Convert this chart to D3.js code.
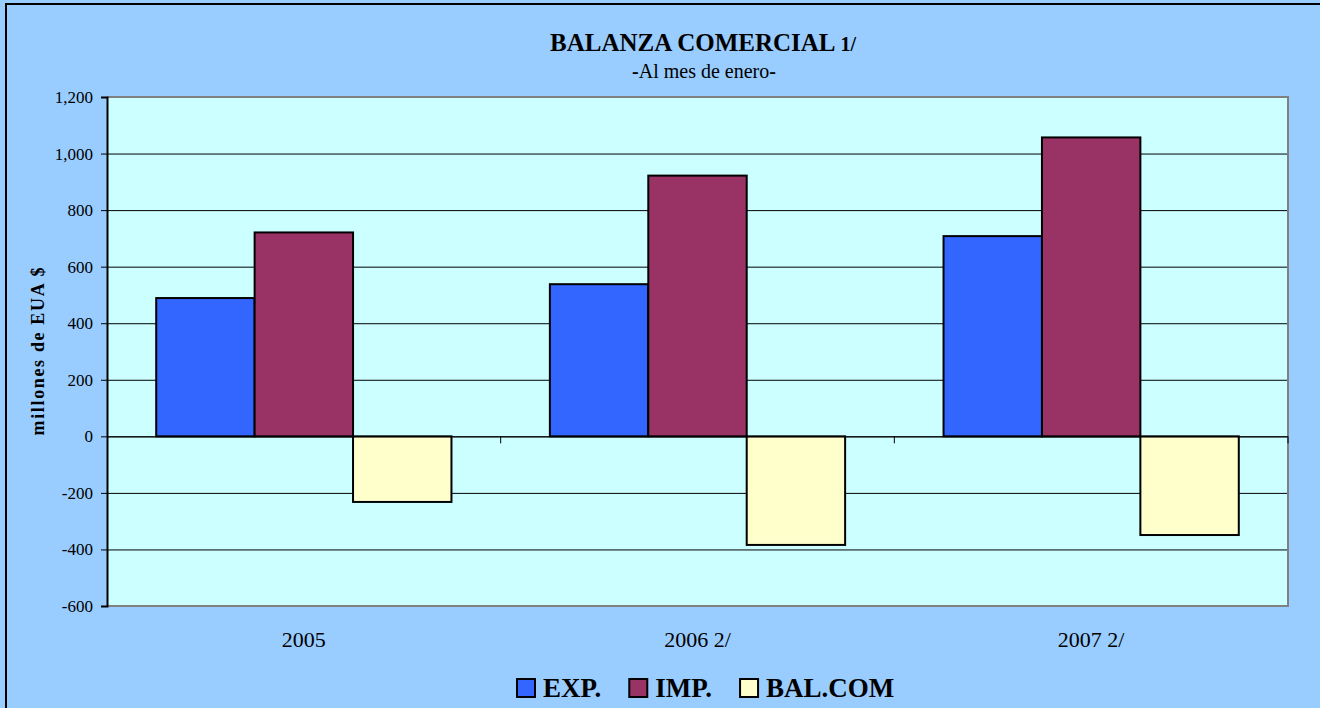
<!DOCTYPE html>
<html>
<head>
<meta charset="utf-8">
<script src="https://cdn.jsdelivr.net/npm/d3@7"></script>
<style>
  body { margin: 0; background: #99ccff; }
  text { font-family: "Liberation Serif", "Times New Roman", serif; fill: #000; }
</style>
</head>
<body>
<svg id="chart" width="1320" height="708"></svg>
<script>
// data (millones de EUA $, al mes de enero)
const categories = ["2005", "2006 2/", "2007 2/"];
const seriesNames = ["EXP.", "IMP.", "BAL.COM"];
const expValues = [489, 538, 708];
const impValues = [721, 922, 1057];
const balValues = [-232, -384, -349];
const yTicks = [-600, -400, -200, 0, 200, 400, 600, 800, 1000, 1200];
const colors = ["#3366ff", "#993366", "#ffffcc"];

const rows = categories.map((c, i) => ({
    cat: c,
    vals: [expValues[i], impValues[i], balValues[i]]
}));

const svg = d3.select("#chart");
const plot = { left: 107, top: 97, right: 1288, bottom: 606 };

// outer frame
svg.append("rect")
    .attr("x", 6).attr("y", 4)
    .attr("width", 1340).attr("height", 720)
    .attr("fill", "#99ccff")
    .attr("stroke", "#000").attr("stroke-width", 2);

const y = d3.scaleLinear().domain([-600, 1200]).range([plot.bottom, plot.top]);
const x0 = d3.scaleBand().domain(categories).range([plot.left, plot.right]);
const bw = x0.bandwidth();
const x1 = d3.scaleBand().domain(seriesNames).range([bw / 8, bw * 7 / 8]);

// plot area
svg.append("rect")
    .attr("x", plot.left).attr("y", plot.top)
    .attr("width", plot.right - plot.left).attr("height", plot.bottom - plot.top)
    .attr("fill", "#ccffff");

// grid lines
svg.append("g")
    .selectAll("line")
    .data(yTicks.filter(d => d > -600 && d < 1200))
    .enter().append("line")
    .attr("x1", plot.left).attr("x2", plot.right)
    .attr("y1", d => y(d) + 0.5).attr("y2", d => y(d) + 0.5)
    .attr("stroke", "#000").attr("stroke-width", 1);

// gray border top / right / bottom
svg.append("path")
    .attr("d", `M${plot.left},${plot.top}H${plot.right}V${plot.bottom}H${plot.left}`)
    .attr("fill", "none")
    .attr("stroke", "#808080").attr("stroke-width", 2);

// bars
svg.append("g")
    .selectAll("g")
    .data(rows)
    .enter().append("g")
    .attr("transform", d => "translate(" + x0(d.cat) + ",0)")
    .selectAll("rect")
    .data(d => d.vals.map((v, i) => ({ key: seriesNames[i], v: v, i: i })))
    .enter().append("rect")
    .attr("x", d => x1(d.key))
    .attr("width", x1.bandwidth())
    .attr("y", d => Math.min(y(d.v), y(0)))
    .attr("height", d => Math.abs(y(d.v) - y(0)))
    .attr("fill", d => colors[d.i])
    .attr("stroke", "#000").attr("stroke-width", 2);

// y axis
const loc = d3.formatLocale({ decimal: ".", thousands: ",", grouping: [3], currency: ["$", ""], minus: "-" });
const fmt = loc.format(",");
const yAxis = svg.append("g")
    .attr("transform", "translate(" + plot.left + ",0)")
    .call(d3.axisLeft(y).tickValues(yTicks).tickSize(6).tickPadding(8).tickFormat(fmt));
yAxis.attr("font-family", null).attr("font-size", null);
yAxis.select(".domain").attr("stroke", "#000").attr("stroke-width", 2);
yAxis.selectAll(".tick line").attr("stroke", "#000");
yAxis.selectAll("text")
    .style("font-family", "'Liberation Serif', serif")
    .style("font-size", "17px");

// x axis: zero line with ticks at category boundaries
const bounds = categories.map(c => x0(c)).concat([plot.right]);
svg.append("line")
    .attr("x1", plot.left).attr("x2", plot.right)
    .attr("y1", y(0) + 0.5).attr("y2", y(0) + 0.5)
    .attr("stroke", "#000").attr("stroke-width", 1);
svg.append("g")
    .selectAll("line")
    .data(bounds.slice(1))
    .enter().append("line")
    .attr("x1", d => d).attr("x2", d => d)
    .attr("y1", y(0)).attr("y2", y(0) + 7)
    .attr("stroke", "#000");

// category labels
svg.append("g")
    .selectAll("text")
    .data(categories)
    .enter().append("text")
    .attr("x", d => x0(d) + bw / 2)
    .attr("y", 647)
    .attr("text-anchor", "middle")
    .style("font-size", "22px")
    .text(d => d);

// titles
const title = svg.append("text")
    .attr("x", 703).attr("y", 51)
    .attr("text-anchor", "middle")
    .style("font-size", "25px").style("font-weight", "bold");
title.append("tspan").text("BALANZA COMERCIAL ");
title.append("tspan").style("font-size", "20px").text("1/");

const sub = svg.append("text")
    .attr("x", 704).attr("y", 78)
    .attr("text-anchor", "middle")
    .style("font-size", "20px");
sub.append("tspan").style("font-weight", "bold").text("-");
sub.append("tspan").text("Al mes de enero");
sub.append("tspan").style("font-weight", "bold").text("-");

// y axis title
svg.append("text")
    .attr("transform", "translate(44," + ((plot.top + plot.bottom) / 2) + ") rotate(-90)")
    .attr("text-anchor", "middle")
    .attr("textLength", 168).attr("lengthAdjust", "spacing")
    .style("font-size", "18px").style("font-weight", "bold")
    .text("millones de EUA $");

// legend
const legend = svg.append("g");
let lx = 517;
seriesNames.forEach((name, i) => {
    legend.append("rect")
        .attr("x", lx).attr("y", 679)
        .attr("width", 18).attr("height", 18)
        .attr("fill", colors[i])
        .attr("stroke", "#000").attr("stroke-width", 2);
    const t = legend.append("text")
        .attr("x", lx + 26).attr("y", 697)
        .style("font-size", "27px").style("font-weight", "bold")
        .text(name);
    lx += 26 + t.node().getComputedTextLength() + 28;
});
</script>
</body>
</html>
